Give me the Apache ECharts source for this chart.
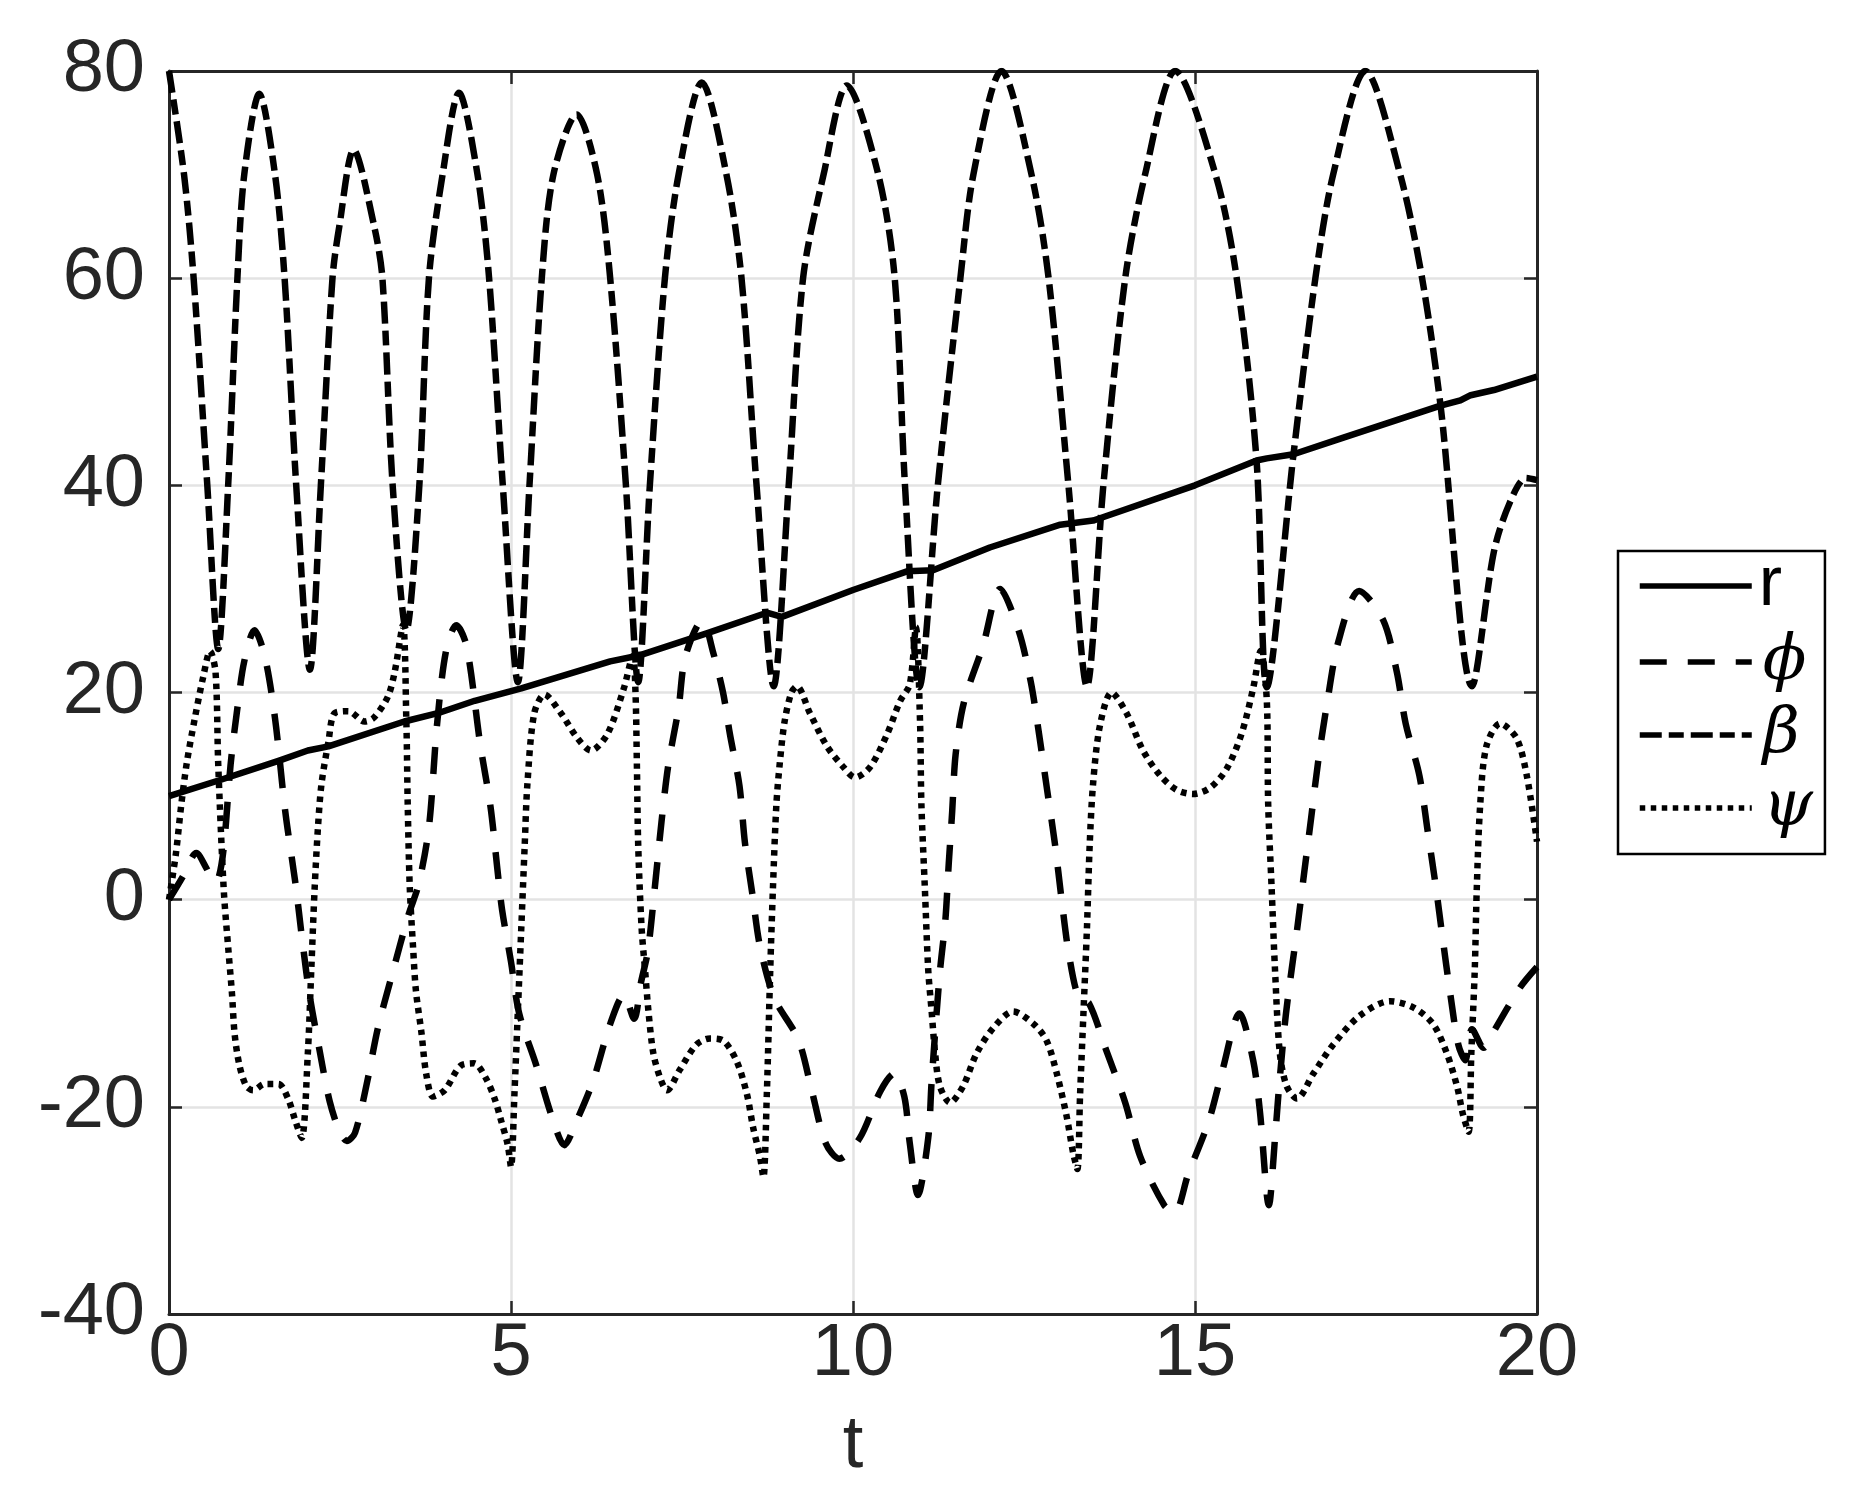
<!DOCTYPE html>
<html>
<head>
<meta charset="utf-8">
<title>r, phi, beta, psi over t</title>
<script src="https://cdn.jsdelivr.net/npm/echarts@6/dist/echarts.min.js"></script>
<style>
  html, body { margin: 0; padding: 0; background: #fff; }
  #chart { width: 1851px; height: 1506px; }
</style>
</head>
<body>
<div id="chart"></div>
<script>
// values (t, value)
const rT = [0, 0.77, 1.6, 2.03, 2.33, 3.44, 3.93, 4.47, 5.15, 6.45, 6.89, 7.86, 8.74, 8.96, 10, 10.79, 11.17, 12, 13.03, 13.51, 13.6, 15, 15.9, 16.05, 16.44, 17.17, 18.59, 18.88, 19.03, 19.37, 20]
const rV = [10, 11.6, 13.4, 14.4, 14.8, 17.2, 18, 19.2, 20.4, 23, 23.6, 25.7, 27.7, 27.3, 29.9, 31.7, 31.8, 34, 36.2, 36.6, 36.8, 40, 42.4, 42.6, 43, 44.6, 47.7, 48.2, 48.7, 49.2, 50.5]

const phiT = [0, 0.2, 0.4, 0.55, 0.65, 0.72, 0.8, 0.9, 1.0, 1.1,
  1.25, 1.4, 1.55, 1.7, 1.85, 1.95, 2.05, 2.2, 2.35, 2.5,
  2.6, 2.72, 2.9, 3.05, 3.25, 3.5, 3.65, 3.8, 3.92, 4.05,
  4.2, 4.35, 4.55, 4.7, 4.8, 4.87, 5.0, 5.12, 5.37, 5.6,
  5.78, 5.95, 6.2, 6.45, 6.65, 6.8, 6.9, 7.0, 7.1, 7.2,
  7.3, 7.45, 7.55, 7.8, 7.95, 8.1, 8.2, 8.34, 8.42, 8.53,
  8.64, 8.85, 9.2, 9.4, 9.6, 9.8, 10.1, 10.4, 10.6, 10.75,
  10.83, 10.95, 11.1, 11.15, 11.27, 11.35, 11.4, 11.45, 11.5, 11.62,
  11.9, 12.15, 12.42, 12.6, 12.72, 12.84, 12.95, 13.05, 13.15, 13.3,
  13.45, 13.7, 13.98, 14.2, 14.55, 14.7, 14.9, 15.2, 15.4, 15.65,
  15.85, 15.95, 16.08, 16.17, 16.23, 16.33, 16.5, 16.6, 16.7, 16.8,
  16.92, 17.1, 17.4, 17.75, 17.95, 18.08, 18.28, 18.4, 18.52, 18.62,
  18.73, 18.85, 18.95, 19.05, 19.22, 19.36, 19.75, 20]
const phiV = [0, 2.2, 4.5, 3, 1.8, 2, 5, 13, 18.5, 23,
  26, 23.5, 17.5, 8.5, 1.5, -4, -9, -14.5, -19.5, -22.5,
  -23.3, -22.5, -17.5, -12.5, -7.5, -1.5, 1.5, 7, 17, 24,
  26.5, 24.5, 15, 9, 3, -1, -6, -11, -16, -21,
  -23.7, -21.5, -17.5, -12, -9.2, -11.5, -8, -5, 1, 7.5,
  13, 18.5, 23.5, 27, 24, 20, 16, 11, 5.5, 0.5,
  -4.5, -9.5, -13.5, -18.5, -23.5, -25, -23, -18.5, -16.8, -19,
  -23.5, -28.5, -23, -17.5, -7, -2, 3.5, 8.5, 14, 19,
  24.5, 30, 26, 21, 16, 10.5, 5.5, 0, -5, -9.5,
  -10, -14.5, -19.6, -24.8, -29.5, -30.2, -26.5, -21.4, -16.5, -11,
  -15.5, -20.5, -29.5, -23, -18, -11, -2.5, 2.8, 8, 13.3,
  18.5, 25, 29.8, 27, 22, 17, 12, 6.7, 1.3, -3.7,
  -9, -14, -15.5, -12.5, -14.3, -12.8, -8.5, -6.5]

const betaT = [0, 0.22, 0.36, 0.56, 0.72, 0.865, 1.0, 1.1, 1.32, 1.55,
  1.69, 1.86, 2.06, 2.22, 2.39, 2.49, 2.7, 3.0, 3.12, 3.27,
  3.47, 3.66, 3.8, 4.0, 4.24, 4.51, 4.68, 4.88, 5.1, 5.27,
  5.45, 5.62, 5.96, 6.26, 6.45, 6.68, 6.86, 7.03, 7.25, 7.45,
  7.79, 8.15, 8.37, 8.59, 8.84, 9.06, 9.27, 9.57, 9.91, 10.37,
  10.61, 10.76, 10.97, 11.24, 11.57, 11.76, 12.17, 12.61, 12.86, 13.15,
  13.42, 13.66, 13.98, 14.27, 14.71, 15.3, 15.61, 15.9, 16.05, 16.44,
  16.76, 17.02, 17.49, 18.0, 18.32, 18.59, 19.05, 19.37, 19.6, 19.84,
  20]
const betaV = [80, 70, 60, 40, 24.2, 40, 60, 70, 77.8, 70,
  60, 40, 22.2, 40, 60, 65, 72.4, 65, 60, 40,
  26, 40, 60, 70, 77.9, 70, 60, 40, 21, 40,
  60, 70, 75.8, 70, 60, 40, 21, 40, 60, 70,
  78.9, 70, 60, 40, 20.6, 40, 60, 70, 78.6, 70,
  60, 40, 20.5, 40, 60, 70, 80, 70, 60, 40,
  20.6, 40, 60, 70, 80, 70, 60, 42.4, 20.5, 43,
  60, 70, 80, 70, 60, 47.7, 20.6, 33.6, 38.3, 40.7,
  40.5]

const psiT = [0, 0.1, 0.18, 0.26, 0.38, 0.5, 0.6, 0.68, 0.72, 0.8,
  0.87, 0.92, 0.96, 1.03, 1.13, 1.23, 1.4, 1.6, 1.74, 1.84,
  1.94, 2.03, 2.08, 2.13, 2.18, 2.23, 2.33, 2.42, 2.62, 2.86,
  3.0, 3.2, 3.3, 3.42, 3.47, 3.49, 3.52, 3.57, 3.61, 3.69,
  3.76, 3.86, 4.03, 4.27, 4.46, 4.63, 4.76, 4.85, 4.95, 5.0,
  5.05, 5.1, 5.15, 5.2, 5.24, 5.34, 5.49, 5.73, 5.97, 6.17,
  6.41, 6.65, 6.78, 6.82, 6.84, 6.86, 6.91, 6.96, 7.01, 7.08,
  7.18, 7.28, 7.47, 7.71, 7.91, 8.1, 8.3, 8.45, 8.54, 8.64,
  8.69, 8.74, 8.79, 8.83, 8.88, 8.93, 9.0, 9.1, 9.18, 9.37,
  9.62, 9.86, 10.03, 10.25, 10.5, 10.69, 10.83, 10.92, 10.98, 11.0,
  11.05, 11.1, 11.15, 11.2, 11.27, 11.42, 11.61, 11.81, 12.05, 12.34,
  12.64, 12.83, 12.98, 13.12, 13.22, 13.28, 13.32, 13.37, 13.42, 13.46,
  13.51, 13.61, 13.78, 14.0, 14.24, 14.49, 14.73, 14.97, 15.22, 15.46,
  15.68, 15.85, 15.96, 16.05, 16.07, 16.12, 16.17, 16.24, 16.34, 16.49,
  16.73, 17.02, 17.41, 17.85, 18.19, 18.48, 18.68, 18.83, 18.92, 19.0,
  19.04, 19.09, 19.12, 19.17, 19.26, 19.46, 19.7, 19.85, 20]
const psiV = [0, 4.4, 9.2, 13.2, 17.6, 21.5, 24, 22, 13, 1,
  -5, -9, -13, -16, -18, -18.4, -17.8, -17.8, -19.2, -21.2,
  -23, -14.8, -6.8, 1.2, 7.2, 11.2, 15.2, 18, 18.2, 17.2,
  17.6, 19.6, 22, 26.5, 17.2, 9.2, 1.2, -4.8, -8.8, -12.8,
  -16.8, -19, -18.4, -16, -15.8, -17.2, -19.2, -21.2, -23.6, -25.8,
  -18.8, -10.8, -2.8, 5.2, 11.2, 18, 19.8, 18, 15.6, 14.4,
  16, 20.4, 23.5, 20, 13.2, 5.2, -2.8, -6.8, -10.8, -14.8,
  -17.2, -18.4, -16.4, -14, -13.4, -13.6, -15.6, -18.8, -22, -24.8,
  -26.8, -18.8, -6.8, 1.2, 9.2, 13.2, 17.2, 20, 20.6, 18,
  14.8, 12.8, 11.8, 12.8, 16, 19.2, 20.8, 26.3, 17.2, 9.2,
  1.2, -6.8, -10.8, -14.8, -18, -19.6, -18, -14.8, -12.4, -10.8,
  -12, -13.6, -16.8, -20.8, -24.5, -26, -18.8, -10.8, -2.8, 5.2,
  11.2, 16.8, 20, 18, 14.4, 12, 10.6, 10.2, 10.8, 12.6,
  16, 20.4, 24, 19.2, 9.2, 1.2, -6.8, -14.8, -18, -19.2,
  -16.8, -14, -11.2, -9.8, -10.4, -12, -14.8, -18, -20.8, -22.4,
  -14.8, -6.8, 1.2, 9.2, 14.8, 17, 15.6, 12, 5.6]

// axis ranges and tick spacing
const xMin = 0, xMax = 20, xStep = 5
const yMin = -40, yMax = 80, yStep = 20

const zip = (ts, vs) => ts.map((t, i) => [t, vs[i]])

const ink = '#262626'
const gridGray = '#e3e3e3'
const tickFont = { fontFamily: 'Liberation Sans', fontSize: 74, color: ink }

function frameAxis(pos, isX, main) {
  return {
    type: 'value',
    position: pos,
    min: isX ? xMin : yMin,
    max: isX ? xMax : yMax,
    interval: isX ? xStep : yStep,
    axisLine: { show: true, onZero: false, lineStyle: { color: ink, width: 3 } },
    axisTick: { show: true, inside: true, length: 13, lineStyle: { color: ink, width: 2.5 } },
    axisLabel: main ? Object.assign({ margin: isX ? 4 : 24 }, tickFont) : { show: false },
    splitLine: { show: main, lineStyle: { color: gridGray, width: 2.5 } },
  }
}

const xMain = frameAxis('bottom', true, true)
xMain.name = 't'
xMain.nameLocation = 'middle'
xMain.nameGap = 96
xMain.nameTextStyle = tickFont

function lineSeries(name, ts, vs, dash, smooth) {
  return {
    name: name,
    type: 'line',
    data: zip(ts, vs),
    symbol: 'none',
    smooth: smooth,
    silent: true,
    itemStyle: { color: '#000' },
    lineStyle: { color: '#000', width: 6.5, type: dash, cap: 'butt', join: 'round' },
  }
}

const chart = echarts.init(document.getElementById('chart'), null, { renderer: 'canvas' })

chart.setOption({
  animation: false,
  backgroundColor: '#fff',
  grid: { left: 169, right: 314, top: 71, bottom: 192 },
  xAxis: [xMain, frameAxis('top', true, false)],
  yAxis: [frameAxis('left', false, true), frameAxis('right', false, false)],
  legend: {
    orient: 'vertical',
    left: 1618,
    top: 551,
    padding: [0, 12, 14, 19],
    itemWidth: 112,
    itemHeight: 1,
    itemGap: 9,
    borderColor: '#000',
    borderWidth: 2.5,
    backgroundColor: '#fff',
    selectedMode: false,
    itemStyle: { opacity: 0 },
    lineStyle: { width: 5.5 },
    textStyle: {
      color: '#000',
      lineHeight: 56,
      rich: {
        s: { fontFamily: 'Liberation Sans', fontSize: 70, lineHeight: 56, padding: [0, 0, 0, 2] },
        g: { fontFamily: 'DejaVu Serif', fontStyle: 'italic', fontSize: 64, lineHeight: 56, padding: [0, 0, 0, 6] },
      },
    },
    formatter: name => (name === 'r' ? '{s|r}' : '{g|' + name + '}'),
    data: ['r', 'ϕ', 'β', 'ψ'],
  },
  series: [
    lineSeries('r', rT, rV, 'solid', false),
    lineSeries('ϕ', phiT, phiV, [27, 21], 0.3),
    lineSeries('β', betaT, betaV, [22, 7, 15, 7], 0.3),
    lineSeries('ψ', psiT, psiV, [5.5, 5.5], 0.3),
  ],
})
</script>
</body>
</html>
